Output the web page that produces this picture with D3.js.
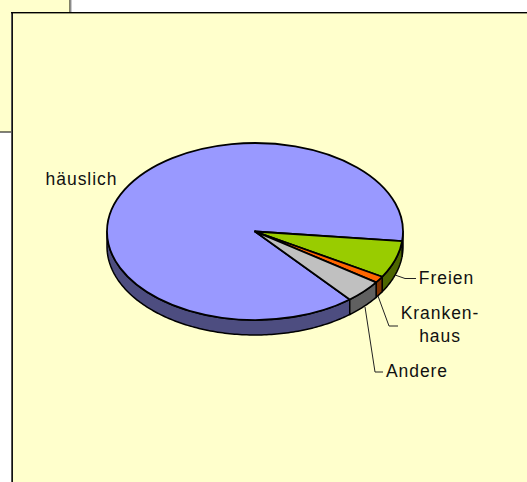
<!DOCTYPE html>
<html><head><meta charset="utf-8">
<script src="https://cdn.jsdelivr.net/npm/d3@7/dist/d3.min.js"></script>
<style>html,body{margin:0;padding:0;background:#fff;overflow:hidden}svg{display:block}</style>
</head><body><div id="c"></div>
<script>
const categories = ["häuslich","Freien","Krankenhaus","Andere"];
const values = [87.8,6.8,1.2,4.2];
const topColors = ["#9999FF","#99CC00","#FF6600","#C0C0C0"];
const sideColors = ["#4D4D80","#4D6600","#803300","#606060"];

const W=527,H=482,cx=255,cy=231.5,rx=148,ry=88.5,depth=15;
const svg=d3.select("#c").append("svg").attr("width",W).attr("height",H);
const bg="#FFFFCC";

// panels
svg.append("rect").attr("x",-5).attr("y",-5).attr("width",75).attr("height",137).attr("fill",bg).attr("stroke","#000").attr("stroke-width",1);
svg.append("rect").attr("x",70.5).attr("y",0).attr("width",1).attr("height",12).attr("fill","#999");
svg.append("rect").attr("x",11).attr("y",12).attr("width",W).attr("height",H).attr("fill",bg);
svg.append("rect").attr("x",11).attr("y",13).attr("width",1).attr("height",H).attr("fill","#555");
svg.append("rect").attr("x",12).attr("y",13).attr("width",1).attr("height",H).attr("fill","#111");
svg.append("rect").attr("x",11).attr("y",12).attr("width",W).attr("height",1.4).attr("fill","#000");

const start=(140.2)*Math.PI/180;
const pie=d3.pie().sort(null).startAngle(start).endAngle(start+2*Math.PI);
const arcs=pie(values);
const px=a=>cx+rx*Math.sin(a), py=a=>cy-ry*Math.cos(a);

// walls: visible where the rim faces the viewer
const g=svg.append("g");
const lo=Math.PI/2,hi=3*Math.PI/2,tau=2*Math.PI;
function wall(a0,a1){
  const p=d3.path();
  const steps=Math.max(2,Math.ceil((a1-a0)*60));
  const s=d3.range(steps+1).map(i=>a0+(a1-a0)*i/steps);
  p.moveTo(px(a0),py(a0));
  s.forEach(a=>p.lineTo(px(a),py(a)+depth));
  s.reverse().forEach(a=>p.lineTo(px(a),py(a)));
  p.closePath();
  return p.toString();
}
const walls=[];
arcs.forEach((d,i)=>{
  [0,tau].forEach(k=>{
    const a0=Math.max(d.startAngle,lo+k),a1=Math.min(d.endAngle,hi+k);
    if(a1>a0) walls.push({a0,a1,i});
  });
});
g.selectAll("path.wall").data(walls).join("path").attr("class","wall")
  .attr("d",d=>wall(d.a0,d.a1)).attr("fill",d=>sideColors[d.i])
  .attr("stroke","#000").attr("stroke-width",1.5).attr("stroke-linejoin","round");

// top
const unit=100;
const arcU=d3.arc().innerRadius(0).outerRadius(unit);
g.append("g").attr("transform",`translate(${cx},${cy}) scale(${rx/unit},${ry/unit})`)
  .selectAll("path").data(arcs).join("path")
  .attr("d",arcU).attr("fill",(d,i)=>topColors[i])
  .attr("stroke","#000").attr("stroke-width",1.8).attr("stroke-linejoin","round")
  .attr("vector-effect","non-scaling-stroke");

// leader lines
const leaders=[
 [[395,275],[405,278.5],[416,278.5]],
 [[378,296],[389,326],[398,326]],
 [[365,307],[375,372],[383,372]]
];
const line=d3.line();
svg.selectAll("path.leader").data(leaders).join("path").attr("class","leader")
  .attr("d",line).attr("fill","none").attr("stroke","#222").attr("stroke-width",1);

// labels
const labelRows=[
 {lines:["häuslich"],x:81.5,y:[185]},
 {lines:["Freien"],x:446.5,y:[284]},
 {lines:["Kranken-","haus"],x:440,y:[319,342]},
 {lines:["Andere"],x:417,y:[377]}
];
labelRows.forEach(l=>{
  l.lines.forEach((t,i)=>{
    svg.append("text").attr("x",l.x).attr("y",l.y[i]).attr("text-anchor","middle")
      .attr("font-family","Liberation Sans, Arial, sans-serif").attr("font-size",17.5)
      .attr("letter-spacing",0.95).attr("fill","#111").text(t);
  });
});
</script></body></html>
